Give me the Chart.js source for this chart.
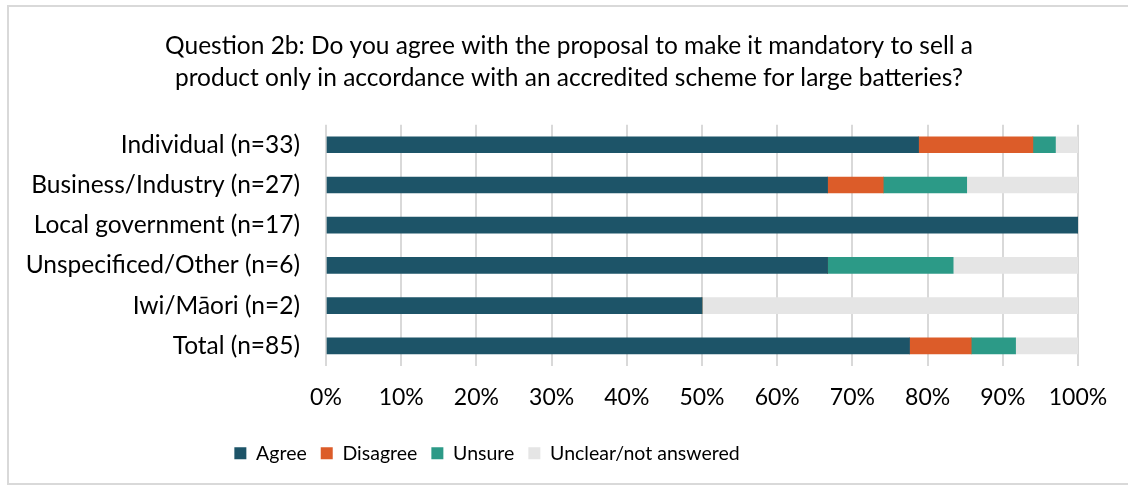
<!DOCTYPE html>
<html>
<head>
<meta charset="utf-8">
<script src="https://cdn.jsdelivr.net/npm/chart.js@4"></script>
<style>
  html, body { margin: 0; padding: 0; background: #fff; }
  #wrap { position: relative; width: 1128px; height: 488px; }
  #frame { position: absolute; left: 7px; top: 5px; width: 1125px; height: 480px; border: 2px solid #d9d9d9; box-sizing: border-box; }
  canvas { position: absolute; left: 0; top: 0; }
</style>
</head>
<body>
<div id="wrap">
  <div id="frame"></div>
  <canvas id="chart" width="1128" height="488"></canvas>
</div>
<script>
  // Response groups and shares (%) per answer
  const groups = ['Individual (n=33)', 'Business/Industry (n=27)', 'Local government (n=17)',
                  'Unspecificed/Other (n=6)', 'Iwi/Māori (n=2)', 'Total (n=85)'];
  const agree = [78.8, 66.7, 100, 66.7, 50, 77.6];
  const disagree = [15.2, 7.4, 0, 0, 0, 8.2];
  const unsure = [3.0, 11.1, 0, 16.7, 0, 5.9];
  const unclear = [3.0, 14.8, 0, 16.6, 50, 8.3];
  const tickLabels = ['0%', '10%', '20%', '30%', '40%', '50%', '60%', '70%', '80%', '90%', '100%'];

  const font = 'Lato, "Open Sans", sans-serif';
  Chart.defaults.font.family = font;
  Chart.defaults.color = '#000';

  function series(label, data, color) {
    return { label, data, backgroundColor: color, borderWidth: 0, barThickness: 16 };
  }

  // move the title right and the legend left of the default centre
  const boxShift = {
    id: 'boxShift',
    afterLayout(chart) {
      const t = chart.titleBlock, lg = chart.legend;
      t.left += 30; t.right += 30;
      lg.left -= 52; lg.right -= 52;
    }
  };

  new Chart(document.getElementById('chart').getContext('2d'), {
    type: 'bar',
    data: {
      labels: groups,
      datasets: [
        series('Agree', agree, '#1d5468'),
        series('Disagree', disagree, '#dc5c29'),
        series('Unsure', unsure, '#2c9a87'),
        series('Unclear/not answered', unclear, '#e5e5e5')
      ]
    },
    options: {
      indexAxis: 'y',
      responsive: false,
      animation: false,
      layout: { padding: { left: 0, right: 50, top: 0, bottom: 15 } },
      scales: {
        x: {
          stacked: true,
          min: 0,
          max: 100,
          border: { display: false },
          grid: { color: '#d9d9d9', lineWidth: 2, drawTicks: false },
          ticks: {
            stepSize: 10,
            padding: 18,
            font: { size: 23 },
            callback: (v, i) => tickLabels[i]
          }
        },
        y: {
          stacked: true,
          border: { display: false },
          grid: { display: false },
          ticks: { padding: 18, font: { size: 24.5 } },
          afterFit: s => { s.width = 326; }
        }
      },
      plugins: {
        title: {
          display: true,
          text: ['Question 2b: Do you agree with the proposal to make it mandatory to sell a',
                 'product only in accordance with an accredited scheme for large batteries?'],
          font: { size: 24.5, weight: 'normal', lineHeight: 1.32 },
          color: '#000',
          padding: { top: 30, bottom: 30 }
        },
        legend: {
          position: 'bottom',
          labels: { boxWidth: 12, boxHeight: 12, padding: 14, font: { size: 19.5 } }
        },
        tooltip: { enabled: false }
      }
    },
    plugins: [boxShift]
  });
</script>
</body>
</html>
